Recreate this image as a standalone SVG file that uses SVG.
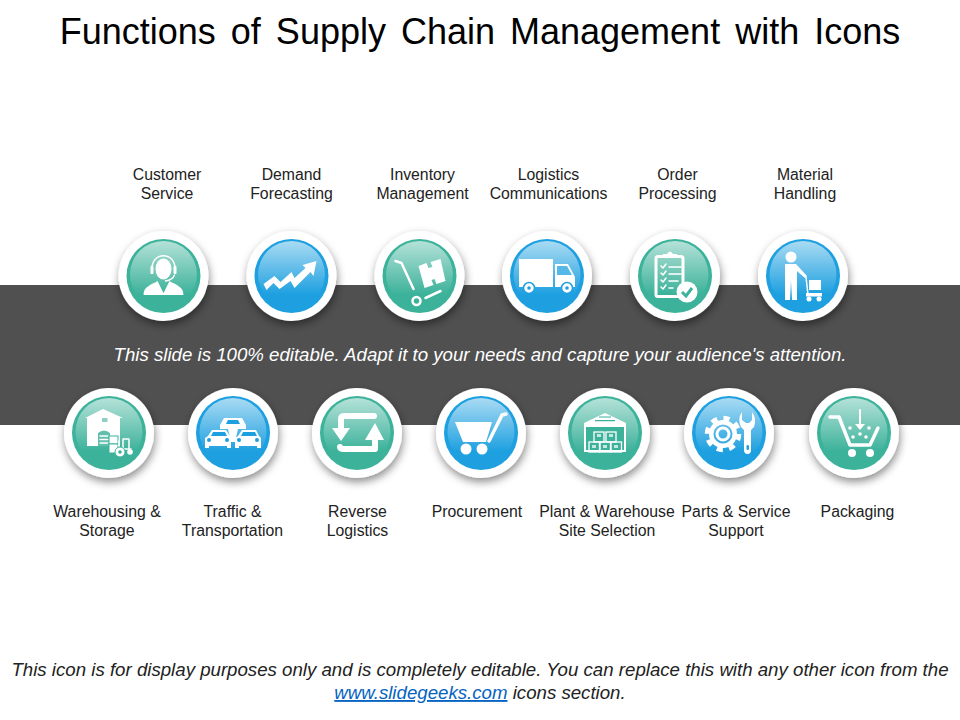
<svg xmlns="http://www.w3.org/2000/svg" width="960" height="720" viewBox="0 0 960 720">
<style>
text{font-family:"Liberation Sans",Arial,sans-serif;fill:#222}
.t{font-size:36px;fill:#000;text-anchor:middle;word-spacing:5px}
.l{font-size:15.8px;text-anchor:middle}
.i{font-size:18.67px;font-style:italic;text-anchor:middle}
.w{fill:#fff}
.s{fill:none;stroke:#fff;stroke-linecap:round;stroke-linejoin:round}
.ring{fill:#fff;filter:url(#sh)}
.tl{fill:#3cb29a}
.bl{fill:#1ea0e0}
.gl{fill:url(#gloss)}
</style>
<defs>
<filter id="sh" x="-40%" y="-40%" width="180%" height="180%"><feDropShadow dx="1" dy="4" stdDeviation="4.500" flood-color="#000" flood-opacity=".45"/></filter>
<linearGradient id="gloss" x1="0" y1="0" x2="0" y2="1"><stop offset="0" stop-color="#fff" stop-opacity=".62"/><stop offset=".8" stop-color="#fff" stop-opacity="0"/></linearGradient>
<g id="tealDisc"><circle r="45" class="ring"/><circle r="37" class="tl"/><circle cy="-1.500" r="33.500" class="gl"/></g>
<g id="blueDisc"><circle r="45" class="ring"/><circle r="37" class="bl"/><circle cy="-1.500" r="33.500" class="gl"/></g>
</defs>
<rect width="960" height="720" fill="#fff"/>
<rect y="285" width="960" height="140" fill="#505050"/>
<text class="t" x="480" y="44">Functions of Supply Chain Management with Icons</text>
<text class="i" x="480" y="361" style="fill:#fff">This slide is 100% editable. Adapt it to your needs and capture your audience's attention.</text>

<g id="customer-service"><g transform="translate(163.5 276)"><use href="#tealDisc"/>
<ellipse cy="-7" rx="8" ry="10.500" class="w"/><path class="s" stroke-width="1.500" d="M-11.500-6C-12.500-25 12.500-25 11.500-6M11-1Q9 4 2 5"/><rect x="-13" y="-10" width="3" height="8" rx="1" class="w"/><rect x="10" y="-10" width="3" height="8" rx="1" class="w"/>
<path class="w" d="M-20 19C-20 10-12 9-6 5L0 17 6 5C12 9 20 10 20 19Z"/></g>
<text class="l" x="167" y="180">Customer</text><text class="l" x="167" y="199">Service</text></g>

<g id="demand-forecasting"><g transform="translate(291.5 276)"><use href="#blueDisc"/>
<path class="w" d="M-28 8-17 0-11 6 0-4 3 2 14-8 11-11 25-15 22 0 19-4 3 12-1 5-12 13-18 7-25 14Z"/></g>
<text class="l" x="291.500" y="180">Demand</text><text class="l" x="291.500" y="199">Forecasting</text></g>

<g id="inventory-management"><g transform="translate(419.500 276)"><use href="#tealDisc"/>
<path class="s" stroke-width="2.500" d="M-24-15-18-13-6 13"/><circle cx="-3" cy="25" r="4" fill="none" stroke="#fff" stroke-width="2.500"/><path class="s" stroke-width="2.500" d="M6 22 21 15"/>
<path class="w" d="M-1-10 7-13 9-8 13-9 11-14 21-17 26 5 17 8 15 3 12 4 14 9 5 12Z"/></g>
<text class="l" x="422.500" y="180">Inventory</text><text class="l" x="422.500" y="199">Management</text></g>

<g id="logistics-communications"><g transform="translate(547 276)"><use href="#blueDisc"/>
<rect x="-28" y="-17" width="34" height="28" class="w"/><path class="w" d="M8-12H21L28 1V11H8Z"/><path class="bl" d="M10-10H20L25-1H10Z" opacity=".75"/>
<circle cx="-18" cy="12" r="5.500" class="w" stroke="#1ea0e0" stroke-width="1.500"/><circle cx="-18" cy="12" r="1.800" class="bl"/><circle cx="20" cy="12" r="5.500" class="w" stroke="#1ea0e0" stroke-width="1.500"/><circle cx="20" cy="12" r="1.800" class="bl"/></g>
<text class="l" x="548.500" y="180">Logistics</text><text class="l" x="548.500" y="199">Communications</text></g>

<g id="order-processing"><g transform="translate(675 276)"><use href="#tealDisc"/>
<rect x="-19" y="-19.500" width="27" height="40" rx="2" fill="none" stroke="#fff" stroke-width="3"/><path class="w" d="M-12-19V-22H-8Q-5-27-2-22H2V-19Z"/>
<path class="s" stroke-width="1.500" d="M-14-10-12-8-9-12M-14-3-12-1-9-5M-14 4-12 6-9 2M-14 11-12 13-9 9M-6-9H6M-6-2H6M-6 5H3M-6 12H-2"/>
<circle cx="12" cy="16" r="10.500" class="w"/><path d="M7 16 11 20 17 12" fill="none" stroke="#3cb29a" stroke-width="3"/></g>
<text class="l" x="677.500" y="180">Order</text><text class="l" x="677.500" y="199">Processing</text></g>

<g id="material-handling"><g transform="translate(803 276)"><use href="#blueDisc"/>
<circle cx="-12" cy="-19" r="5.500" class="w"/><path class="w" d="M-18-12H-7L4 0 2 2-6-5V24H-11L-12 5-13 24H-18Z"/>
<path class="s" stroke-width="1.500" d="M3 1 5 19"/><rect x="6" y="4" width="12" height="10" class="w"/><rect x="3" y="17" width="16" height="3.500" class="w"/><circle cx="6" cy="23" r="2.500" class="w"/><circle cx="16" cy="23" r="2.500" class="w"/></g>
<text class="l" x="805" y="180">Material</text><text class="l" x="805" y="199">Handling</text></g>

<g id="warehousing-storage"><g transform="translate(109 433)"><use href="#tealDisc"/>
<path class="w" d="M-24-15-6-24 14-15H11V13H-22V-15Z"/><rect x="-7" y="-15" width="5.500" height="4" fill="#8fd0c2"/><path fill="#62bfac" d="M-11 13V0Q-5-5 1 0V13Z"/><path class="s" stroke-width="1.300" d="M-9 3H-1M-9 6.500H-1M-9 10H-1"/>
<rect x="0" y="3" width="9" height="8" class="w" stroke="#3cb29a"/><rect x="0" y="11" width="9" height="9" class="w" stroke="#3cb29a"/><path class="s" stroke-width="1.500" d="M10 20V8M14 6H20V17M14 6V16H22"/><circle cx="11" cy="19" r="5" class="w" stroke="#3cb29a"/><circle cx="11" cy="19" r="1.800" class="tl"/><circle cx="21" cy="19" r="2.800" class="w"/></g>
<text class="l" x="107" y="517">Warehousing &amp;</text><text class="l" x="107" y="536">Storage</text></g>

<g id="traffic-transportation"><g transform="translate(233 433)"><use href="#blueDisc"/>
<path class="w" d="M-13-8-9-15H9L13-8V-4H5L2 9H-2L-5-4H-13Z"/><path class="bl" d="M-7-9-5-13H5L7-9Z"/>
<path class="w" d="M-28 15V5L-25 3-21-3H-7L-3 3-2 5V15H-6V13H-24V15Z"/><path class="bl" d="M-20-1H-8L-6 3H-22Z"/><circle cx="-24" cy="7" r="2" class="bl"/><circle cx="-6" cy="7" r="2" class="bl"/>
<path class="w" d="M2 15V5L5 3 9-3H23L26 3 28 5V15H24V13H6V15Z"/><path class="bl" d="M10-1H22L24 3H8Z"/><circle cx="6" cy="7" r="2" class="bl"/><circle cx="24" cy="7" r="2" class="bl"/></g>
<text class="l" x="232.500" y="517">Traffic &amp;</text><text class="l" x="232.500" y="536">Transportation</text></g>

<g id="reverse-logistics"><g transform="translate(357 433)"><use href="#tealDisc"/>
<path class="s" stroke-width="6" d="M-16-4V-14Q-16-17-13-17H17M-17 14Q-17 16-13 16H18V4"/>
<path class="w" d="M-25-5H-7L-16 8ZM8 7 18-10 27 7Z"/></g>
<text class="l" x="357.500" y="517">Reverse</text><text class="l" x="357.500" y="536">Logistics</text></g>

<g id="procurement"><g transform="translate(481 433)"><use href="#blueDisc"/>
<path class="w" d="M-26-11H11L5 9H-18Z"/><path class="s" stroke-width="3.500" d="M8 8 21-18 25-19"/><circle cx="-15" cy="16" r="5.500" class="w"/><circle cx="1" cy="16" r="5.500" class="w"/></g>
<text class="l" x="477" y="517">Procurement</text></g>

<g id="plant-warehouse"><g transform="translate(605 433)"><use href="#tealDisc"/>
<path class="w" d="M-21-10 0-20 21-10V19H-21Z"/><path class="tl" d="M-19-6H19V17H-19Z"/><path class="tl" d="M-10-13H10V-11.800H-10ZM-6-16.500H6V-15.500H-6Z"/>
<g fill="none" stroke="#fff" stroke-width="1.300"><rect x="-11" y="-1" width="10" height="10"/><rect x="1" y="-1" width="10" height="10"/><rect x="-16" y="9" width="10.500" height="10"/><rect x="-5" y="9" width="10.500" height="10"/><rect x="6" y="9" width="10.500" height="10"/></g>
<path class="w" d="M-8 1H-4V4H-8ZM4 1H8V4H4ZM-13 12H-9V15H-13ZM-2 12H2V15H-2ZM9 12H13V15H9Z" opacity=".7"/></g>
<text class="l" x="607" y="517">Plant &amp; Warehouse</text><text class="l" x="607" y="536">Site Selection</text></g>

<g id="parts-service"><g transform="translate(729 433)"><use href="#blueDisc"/>
<g transform="translate(-6 1)"><circle r="15.500" fill="none" stroke="#fff" stroke-width="5.500" stroke-dasharray="6 6.170"/><circle r="11.750" fill="none" stroke="#fff" stroke-width="4.500"/><circle r="6" fill="none" stroke="#fff" stroke-width="3"/></g>
<path class="w" d="M13-21V-13L17-10H20L23-13V-21Q28-14 25-6L22-3V17Q22 21 18.500 21T15 17V-3L12-6Q8-14 13-21Z"/><rect x="17.500" y="12" width="2.500" height="5" rx="1.200" class="bl"/></g>
<text class="l" x="736" y="517">Parts &amp; Service</text><text class="l" x="736" y="536">Support</text></g>

<g id="packaging"><g transform="translate(854 433)"><use href="#tealDisc"/>
<path class="s" stroke-width="3.500" d="M-24-16H-15L-4 12H16L24-5"/><path class="s" stroke-width="2" d="M6-23V-8"/><path class="w" d="M1-9H11L6-3Z"/><circle cx="-4" cy="-5" r="1.800" class="w"/><circle cx="15" cy="-5" r="1.800" class="w"/><circle cx="-1" cy="4" r="1.800" class="w"/><circle cx="12" cy="4" r="1.800" class="w"/><circle cx="6" cy="1" r="1.800" class="w"/><circle cx="-2" cy="20" r="4" class="w"/><circle cx="16" cy="20" r="4" class="w"/></g>
<text class="l" x="857.500" y="517">Packaging</text></g>

<text class="i" x="480" y="676">This icon is for display purposes only and is completely editable. You can replace this with any other icon from the</text>
<text class="i" x="480" y="699"><tspan style="fill:#0563c1;text-decoration:underline">www.slidegeeks.com</tspan> icons section.</text>
</svg>
